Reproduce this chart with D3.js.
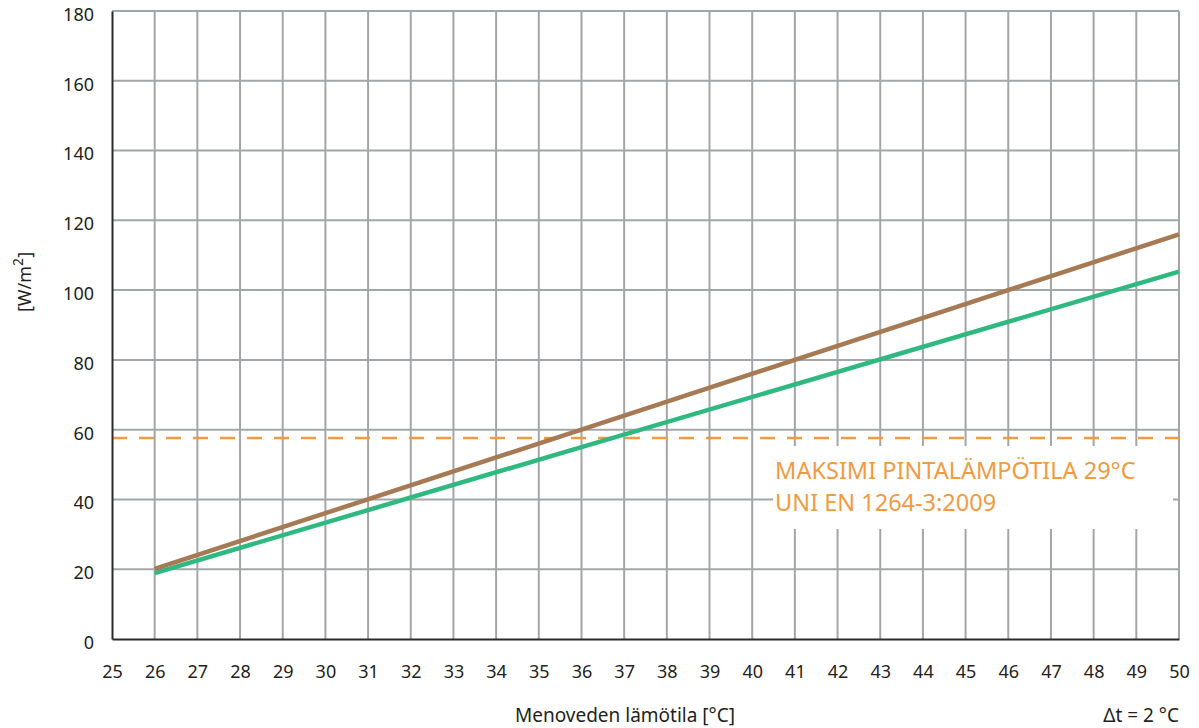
<!DOCTYPE html>
<html>
<head>
<meta charset="utf-8">
<script src="https://cdn.jsdelivr.net/npm/d3@7"></script>
<style>
  body { margin: 0; background: #fff; }
  svg text { font-family: "Noto Sans", "Open Sans", sans-serif; }
</style>
</head>
<body>
<div id="chart"></div>
<script>
// x axis: supply water temperature [°C]
const xTicks = d3.range(25, 51);
const yTicks = [0, 20, 40, 60, 80, 100, 120, 140, 160, 180];

// heat output [W/m2] at flow temperature
const brownSeries = [[26, 20.1], [36, 60], [50, 116]];
const greenSeries = [[26, 18.9], [36, 55], [50, 105.3]];

// maximum surface temperature limit
const limitValue = 57.6;
const limitLabel = ["MAKSIMI PINTALÄMPÖTILA 29°C", "UNI EN 1264-3:2009"];

const W = 1199, H = 728;
const margin = {top: 11, right: 20, bottom: 89, left: 112};
const width = W - margin.left - margin.right;
const height = H - margin.top - margin.bottom;

const svg = d3.select("#chart").append("svg")
    .attr("width", W)
    .attr("height", H);

const g = svg.append("g")
    .attr("transform", `translate(${margin.left},${margin.top})`);

const x = d3.scaleLinear().domain([25, 50]).range([0, width]);
const y = d3.scaleLinear().domain([0, 180]).range([height, 0]);

const gridColor = "#a3a6a9";

// vertical grid
g.append("g")
    .selectAll("line")
    .data(xTicks.filter(d => d > 25))
    .enter()
    .append("line")
    .attr("x1", d => x(d))
    .attr("x2", d => x(d))
    .attr("y1", 0)
    .attr("y2", height)
    .attr("stroke", gridColor)
    .attr("stroke-width", 2);

// horizontal grid
g.append("g")
    .selectAll("line")
    .data(yTicks.filter(d => d > 0))
    .enter()
    .append("line")
    .attr("x1", 0)
    .attr("x2", width)
    .attr("y1", d => y(d))
    .attr("y2", d => y(d))
    .attr("stroke", gridColor)
    .attr("stroke-width", 2);

// limit line (dashed)
g.append("line")
    .attr("x1", 0)
    .attr("x2", width)
    .attr("y1", y(limitValue))
    .attr("y2", y(limitValue))
    .attr("stroke", "#f29a3f")
    .attr("stroke-width", 2.5)
    .attr("stroke-dasharray", "15,12");

// white box behind the annotation
g.append("rect")
    .attr("x", x(40.49))
    .attr("y", y(limitValue) + 8)
    .attr("width", x(49.86) - x(40.49))
    .attr("height", 83)
    .attr("fill", "#fff");

const note = g.append("text")
    .attr("fill", "#f29a3f")
    .attr("font-size", 23.5);
note.selectAll("tspan")
    .data(limitLabel)
    .enter()
    .append("tspan")
    .attr("x", x(40.49) + 2)
    .attr("y", (d, i) => y(limitValue) + 41 + i * 32)
    .text(d => d);

// series lines
const line = d3.line()
    .x(d => x(d[0]))
    .y(d => y(d[1]));

g.append("path")
    .datum(greenSeries)
    .attr("d", line)
    .attr("fill", "none")
    .attr("stroke", "#2fb981")
    .attr("stroke-width", 4.5);

g.append("path")
    .datum(brownSeries)
    .attr("d", line)
    .attr("fill", "none")
    .attr("stroke", "#a57a54")
    .attr("stroke-width", 4.5);

// axes
const xAxis = g.append("g")
    .attr("transform", `translate(0,${height})`)
    .call(d3.axisBottom(x).tickValues(xTicks).tickSize(0).tickPadding(26).tickFormat(d3.format("d")));

const yAxis = g.append("g")
    .call(d3.axisLeft(y).tickValues(yTicks).tickSize(0).tickPadding(18));

[xAxis, yAxis].forEach(a => {
    a.select(".domain").attr("stroke", "#2b2b2b").attr("stroke-width", 2);
    a.selectAll("text")
        .attr("font-size", 18)
        .attr("fill", "#231f20")
        .style("font-family", "'Noto Sans', sans-serif");
});
yAxis.selectAll("text").attr("dy", "0.52em");

// axis titles
svg.append("text")
    .attr("transform", "translate(31,282) rotate(-90)")
    .attr("text-anchor", "middle")
    .attr("font-size", 18)
    .attr("fill", "#231f20")
    .html('[W/m<tspan dy="-8" font-size="14">2</tspan><tspan dy="8">]</tspan>');

svg.append("text")
    .attr("x", 625)
    .attr("y", 722)
    .attr("text-anchor", "middle")
    .attr("font-size", 19)
    .attr("fill", "#231f20")
    .text("Menoveden lämötila [°C]");

svg.append("text")
    .attr("x", margin.left + width)
    .attr("y", 722)
    .attr("text-anchor", "end")
    .attr("font-size", 19)
    .attr("fill", "#231f20")
    .text("Δt = 2 °C");
</script>
</body>
</html>
